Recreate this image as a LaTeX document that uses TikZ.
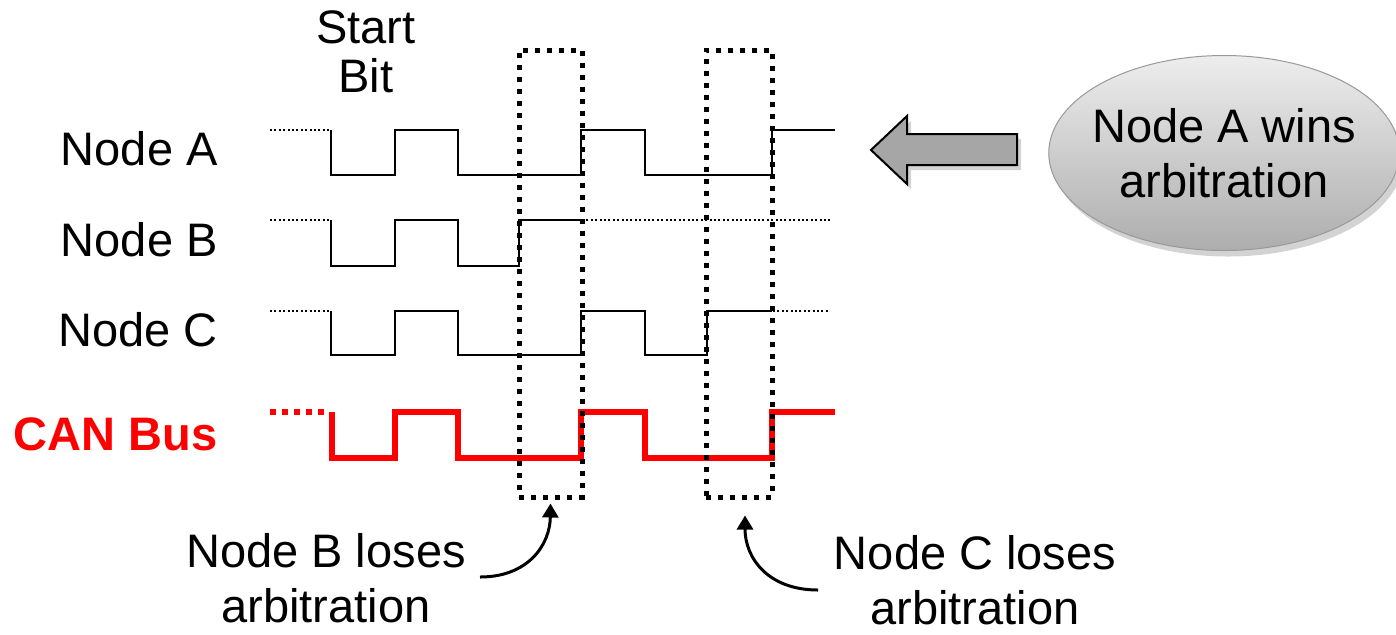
\documentclass[tikz,border=0pt]{standalone}
\usepackage{fontspec}
\setmainfont{Liberation Sans}
\usetikzlibrary{arrows.meta,shapes.geometric,shadows}
\begin{document}
\begin{tikzpicture}[x=0.5pt,y=-0.5pt,
  lbl/.style={font=\fontsize{23.5}{27.5}\selectfont, inner sep=0pt},
  wave/.style={line width=1pt, line join=miter},
  fine/.style={line width=1pt, dash pattern=on 1pt off 1.2pt},
  bus/.style={red, line width=3pt, line join=miter},
  busdots/.style={red, line width=3pt, dash pattern=on 3pt off 3pt},
  dotbox/.style={draw, line width=2.5pt, dash pattern=on 2.5pt off 3.5pt, inner sep=0pt},
  curvearrow/.style={line width=1.5pt, -{Triangle[length=7pt,width=8pt]}},
]
\useasboundingbox (0,0) rectangle (1396,634);

% labels
\node[lbl, anchor=base east] (la) at (218,165) {Node A};
\node[lbl, anchor=base east] (lb) at (218,256) {Node B};
\node[lbl, anchor=base east] (lc) at (218,346) {Node C};
\node[lbl, anchor=base east, text=red, font=\fontsize{23.5}{27.5}\selectfont\bfseries] (lcan) at (218,450) {CAN Bus};
\node[lbl, align=center, font=\fontsize{23.5}{24.5}\selectfont] (sb) at (366,52) {Start\\Bit};

% Node A
\draw[fine] (270,130) -- (330,130);
\draw[wave] (331,130) -- (331,175) -- (395,175) -- (395,130) -- (458,130) -- (458,175) -- (581,175) -- (581,130) -- (645,130) -- (645,175) -- (772,175) -- (772,130) -- (835,130);
% Node B
\draw[fine] (270,220) -- (330,220);
\draw[wave] (331,220) -- (331,266) -- (395,266) -- (395,220) -- (458,220) -- (458,266) -- (519,266) -- (519,220) -- (581,220);
\draw[fine] (582,220) -- (830,220);
% Node C
\draw[fine] (270,311) -- (330,311);
\draw[wave] (331,311) -- (331,355) -- (395,355) -- (395,311) -- (458,311) -- (458,355) -- (581,355) -- (581,311) -- (645,311) -- (645,355) -- (707,355) -- (707,311) -- (772,311);
\draw[fine] (773,311) -- (830,311);
% CAN bus
\draw[busdots] (270,412) -- (324,412);
\draw[bus] (332,412) -- (332,458) -- (395,458) -- (395,412) -- (458,412) -- (458,458) -- (581,458) -- (581,412) -- (645,412) -- (645,458) -- (772,458) -- (772,412) -- (835,412);

% dotted boxes
\node[dotbox, minimum width=31.5pt, minimum height=223.5pt] (box1) at (550.5,273.5) {};
\node[dotbox, minimum width=33pt, minimum height=223.5pt] (box2) at (739,273.5) {};

% bottom captions
\node[lbl, align=center] (nbl) at (326,578) {Node B loses\\arbitration};
\node[lbl, align=center] (ncl) at (975,580) {Node C loses\\arbitration};

\coordinate (s1) at (480,577);
\coordinate (s2) at (818,590);
\draw[curvearrow] (s1) .. controls (528,577) and (550,545) .. ([yshift=-2pt]box1.south);
\draw[curvearrow] (s2) .. controls (768,590) and (745,558) .. ([xshift=3pt,yshift=-8pt]box2.south);

% big arrow
\draw[fill=black!35, line width=1pt, line join=miter,
  drop shadow={shadow xshift=2pt, shadow yshift=-2.5pt, opacity=.35}]
  (871,150) -- (907,116) -- (907,134) -- (1017,134) -- (1017,165) -- (907,165) -- (907,184) -- cycle;

% ellipse
\node[ellipse, lbl, align=center, inner xsep=-4pt, minimum width=175pt, minimum height=97.5pt,
  top color=black!7, bottom color=black!32, draw=black!40, line width=0.5pt,
  drop shadow={shadow xshift=2pt, shadow yshift=-3pt, opacity=.35}] (win) at (1224,153) {Node A wins\\arbitration};
\end{tikzpicture}
\end{document}
